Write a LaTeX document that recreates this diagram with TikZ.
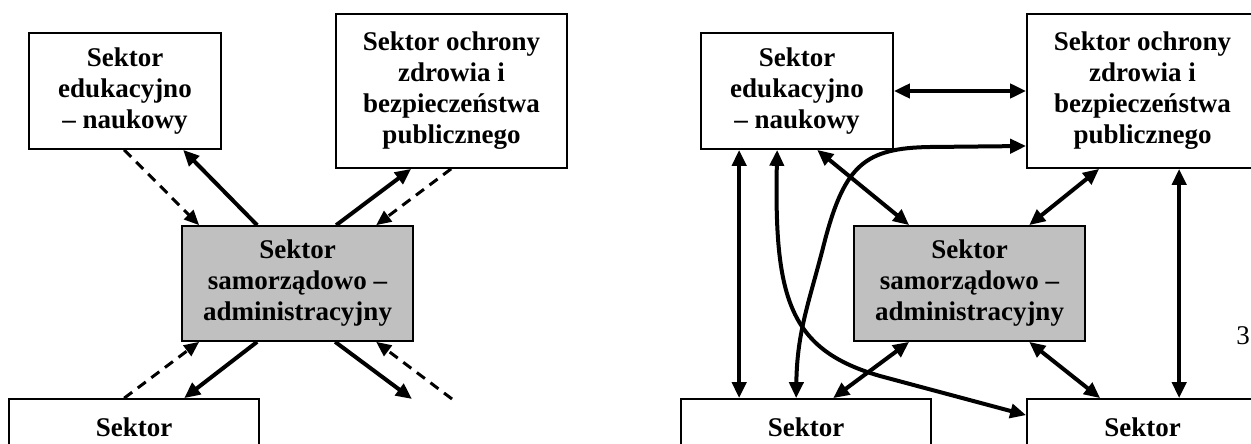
\documentclass[tikz,border=0pt]{standalone}
\usepackage{fontspec}
\setmainfont{Liberation Serif}
\usetikzlibrary{arrows.meta}
\definecolor{boxgray}{RGB}{192,192,192}

\begin{document}
\begin{tikzpicture}[x=1pt, y=-1pt]
  \def\flowwidth{4pt}
  \tikzstyle{sektor} = [draw, line width=1.7pt, fill=white, align=center, inner sep=0pt, font=\fontsize{27}{31}\selectfont\bfseries]
  \tikzstyle{samorzad} = [sektor, fill=boxgray]
  \tikzstyle{nazwa} = [font=\fontsize{27}{31}\selectfont\bfseries, inner sep=0pt]
  \tikzstyle{flow} = [line width=\flowwidth, -{Triangle[length=16pt,width=14pt]}]
  \tikzstyle{both} = [line width=\flowwidth, {Triangle[length=16pt,width=14pt]}-{Triangle[length=16pt,width=14pt]}]
  \tikzstyle{dflow} = [line width=3pt, dash pattern=on 10pt off 7pt, -{Triangle[length=15pt,width=13pt]}]

  \useasboundingbox (0,0) rectangle (1251,444);

  % left: one-way links
  \begin{scope}
    \node[sektor, minimum width=192pt, minimum height=116pt] (edu) at (125,91) {Sektor\\edukacyjno\\– naukowy};
    \node[sektor, minimum width=231pt, minimum height=154pt] (zdr) at (451.5,91) {Sektor ochrony\\zdrowia i\\bezpieczeństwa\\publicznego};
    \node[samorzad, minimum width=231pt, minimum height=115pt] (sam) at (297.5,283.5) {Sektor\\samorządowo –\\administracyjny};
    \node[sektor, minimum width=250pt, minimum height=116pt] (dol) at (134,457) {};
    \node[nazwa] (dolname) at (134,427) {Sektor};
    \coordinate (wyj) at (412,399);
    \coordinate (wej) at (452,399);

    \draw[dflow] ([xshift=96pt]edu.south west) -- ([xshift=18pt]sam.north west);
    \draw[flow] ([xshift=76pt]sam.north west) -- ([xshift=155pt]edu.south west);
    \draw[flow] ([xshift=155pt]sam.north west) -- ([xshift=76pt]zdr.south west);
    \draw[dflow] ([xshift=116pt]zdr.south west) -- ([xshift=195pt]sam.north west);
    \draw[dflow] ([xshift=116pt]dol.north west) -- ([xshift=18pt]sam.south west);
    \draw[flow] ([xshift=76pt]sam.south west) -- ([xshift=176pt]dol.north west);
    \draw[flow] ([xshift=154pt]sam.south west) -- (wyj);
    \draw[dflow] (wej) -- ([xshift=195pt]sam.south west);
  \end{scope}

  % right: every sector with every other
  \begin{scope}[shift={(672,0)}]
    \node[sektor, minimum width=192pt, minimum height=116pt] (edu2) at (125,91) {Sektor\\edukacyjno\\– naukowy};
    \node[sektor, minimum width=231pt, minimum height=154pt] (zdr2) at (470.5,91) {Sektor ochrony\\zdrowia i\\bezpieczeństwa\\publicznego};
    \node[samorzad, minimum width=231pt, minimum height=115pt] (sam2) at (297.5,283.5) {Sektor\\samorządowo –\\administracyjny};
    \node[sektor, minimum width=250pt, minimum height=116pt] (dol2) at (134,457) {};
    \node[nazwa] (dolname2) at (134,427) {Sektor};
    \node[sektor, minimum width=231pt, minimum height=116pt] (pra2) at (470.5,457) {};
    \node[nazwa] (praname2) at (470.5,427) {Sektor};

    \draw[both] (edu2.east) -- (zdr2.west);
    \draw[both] ([xshift=39pt]edu2.south west) -- ([xshift=59pt]dol2.north west);
    \draw[both] ([xshift=77pt]edu2.south west) .. controls (102,300) and (118,350) .. (208,376) -- ([yshift=-17pt]pra2.north west);
    \draw[both] ([xshift=116pt]dol2.north west) .. controls (125,330) and (138,300) .. (153,240)
      .. controls (173,165) and (193,148) .. (258,147) -- ([yshift=-55pt]zdr2.west);
    \draw[both] ([xshift=117pt]edu2.south west) -- ([xshift=56pt]sam2.north west);
    \draw[both] ([xshift=176pt]sam2.north west) -- ([xshift=73pt]zdr2.south west);
    \draw[both] ([xshift=56pt]sam2.south west) -- ([xshift=153pt]dol2.north west);
    \draw[both] ([xshift=176pt]sam2.south west) -- ([xshift=74pt]pra2.north west);
    \draw[both] ([xshift=153pt]zdr2.south west) -- ([xshift=153pt]pra2.north west);
  \end{scope}

  \node[font=\fontsize{27}{31}\selectfont, anchor=east, inner sep=0pt] (strona) at (1250,336) {3};
\end{tikzpicture}
\end{document}
